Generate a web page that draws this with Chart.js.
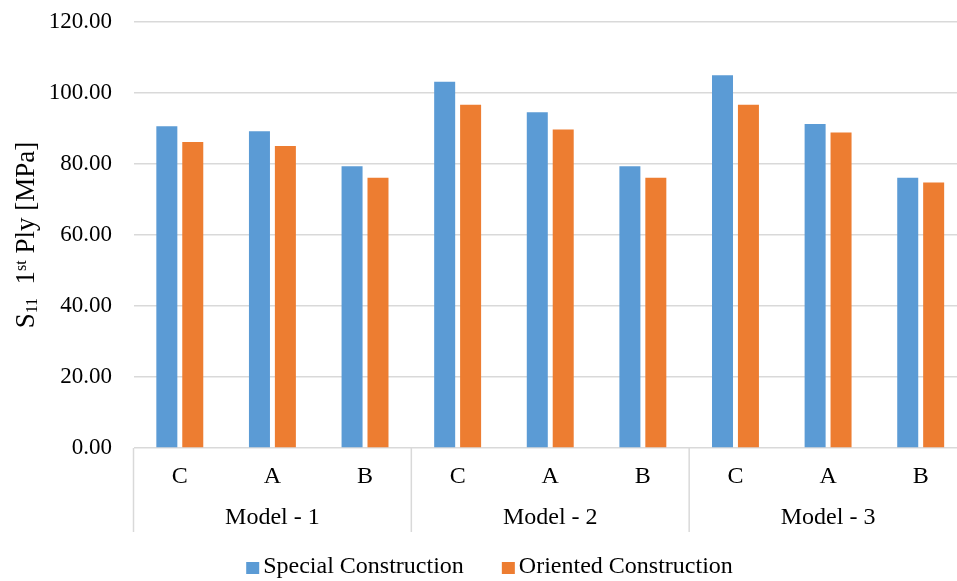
<!DOCTYPE html>
<html>
<head>
<meta charset="utf-8">
<script src="https://cdn.jsdelivr.net/npm/chart.js@4"></script>
<style>
  html, body { margin: 0; padding: 0; background: #fff; overflow: hidden; }
  #wrap { width: 967px; height: 581px; position: relative; }
</style>
</head>
<body>
<div id="wrap"><canvas id="c" width="967" height="581"></canvas></div>
<script>
// Data
const groups = ['Model - 1', 'Model - 2', 'Model - 3'];
const categories = ['C', 'A', 'B'];
const yTicks = [0, 20, 40, 60, 80, 100, 120];
const specialConstruction = [90.6, 89.2, 79.4, 103.2, 94.6, 79.4, 105.0, 91.3, 76.1];
const orientedConstruction = [86.2, 85.1, 76.1, 96.7, 89.7, 76.1, 96.7, 88.9, 74.8];

const FONT = "'Liberation Serif', 'Times New Roman', serif";
const GRID = '#d9d9d9';

// One x label per bar group: C, A, B repeated for each model
const xLabels = [];
groups.forEach(() => categories.forEach(c => xLabels.push(c)));

// Second-level axis (model names + separators), y-axis title and legend
const extras = {
  id: 'extras',
  afterDraw(chart) {
    const ctx = chart.ctx;
    const xs = chart.scales.x;
    const area = chart.chartArea;
    const half = (xs.getPixelForValue(1) - xs.getPixelForValue(0)) / 2;
    const n = categories.length;

    ctx.save();
    // group separators
    ctx.strokeStyle = GRID;
    ctx.lineWidth = 1.5;
    for (let g = 0; g <= groups.length; g++) {
      const x = xs.getPixelForValue(g * n) - half;
      ctx.beginPath();
      ctx.moveTo(x, area.bottom);
      ctx.lineTo(x, 532);
      ctx.stroke();
    }
    // group labels
    ctx.fillStyle = '#000';
    ctx.font = '24px ' + FONT;
    ctx.textAlign = 'center';
    ctx.textBaseline = 'middle';
    groups.forEach((name, g) => {
      const x0 = xs.getPixelForValue(g * n) - half;
      const x1 = xs.getPixelForValue(g * n + n - 1) + half;
      ctx.fillText(name, (x0 + x1) / 2, 518);
    });

    // y-axis title with subscript and superscript
    const big = '27px ' + FONT, small = '16px ' + FONT;
    const parts = [
      { t: 'S', f: big, dy: 0 },
      { t: '11', f: small, dy: 3 },
      { t: '  1', f: big, dy: 0 },
      { t: 'st', f: small, dy: -8 },
      { t: ' Ply [MPa]', f: big, dy: 0 }
    ];
    let total = 0;
    parts.forEach(p => { ctx.font = p.f; p.w = ctx.measureText(p.t).width; total += p.w; });
    const cy = (area.top + area.bottom) / 2;
    ctx.translate(34, cy);
    ctx.rotate(-Math.PI / 2);
    ctx.textAlign = 'left';
    ctx.textBaseline = 'alphabetic';
    let x = -total / 2;
    parts.forEach(p => { ctx.font = p.f; ctx.fillText(p.t, x, p.dy); x += p.w; });
    ctx.setTransform(1, 0, 0, 1, 0, 0);

    // legend
    ctx.font = '24px ' + FONT;
    ctx.textAlign = 'left';
    const items = chart.data.datasets.map(d => ({ label: d.label, color: d.backgroundColor, w: 13 + 4 + ctx.measureText(d.label).width }));
    const spacing = 38;
    const legendW = items.reduce((s, it) => s + it.w, 0) + spacing * (items.length - 1);
    let lx = 489.5 - legendW / 2;
    items.forEach(it => {
      ctx.fillStyle = it.color;
      ctx.fillRect(lx, 562, 13, 12);
      ctx.fillStyle = '#000';
      ctx.fillText(it.label, lx + 17, 573);
      lx += it.w + spacing;
    });
    ctx.restore();
  }
};

new Chart(document.getElementById('c'), {
  type: 'bar',
  data: {
    labels: xLabels,
    datasets: [
      { label: 'Special Construction', data: specialConstruction, backgroundColor: '#5B9BD5',
        categoryPercentage: 0.56, barPercentage: 0.81 },
      { label: 'Oriented Construction', data: orientedConstruction, backgroundColor: '#ED7D31',
        categoryPercentage: 0.56, barPercentage: 0.81 }
    ]
  },
  options: {
    responsive: false,
    animation: false,
    devicePixelRatio: 1,
    layout: { padding: { top: 22, left: 0, right: 0, bottom: 0 } },
    plugins: { legend: { display: false }, tooltip: { enabled: false } },
    scales: {
      x: {
        grid: { display: false },
        border: { display: false },
        ticks: { font: { family: FONT, size: 24 }, color: '#000', padding: 6, maxRotation: 0, autoSkip: false },
        afterFit(s) { s.height = 133; s.paddingLeft = 0; s.paddingRight = 0; }
      },
      y: {
        min: 0, max: 120,
        afterBuildTicks(s) { s.ticks = yTicks.map(v => ({ value: v })); },
        ticks: { font: { family: FONT, size: 23 }, color: '#000', padding: 21.5, callback: v => v.toFixed(2) },
        grid: { color: GRID, lineWidth: 1.5, drawTicks: false },
        border: { display: false },
        afterFit(s) { s.width = 133.5; s.paddingTop = 0; s.paddingBottom = 0; }
      }
    }
  },
  plugins: [extras]
});
</script>
</body>
</html>
